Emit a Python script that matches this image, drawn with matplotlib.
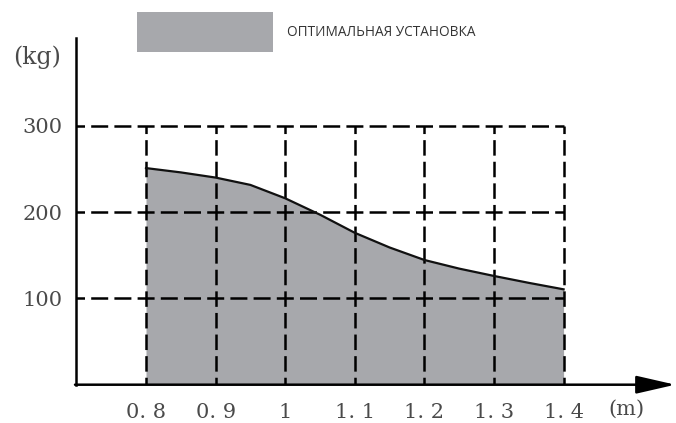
import matplotlib
matplotlib.use("Agg")
import matplotlib.pyplot as plt
from matplotlib.patches import Rectangle

# ---- data ----
span_m = [0.80, 0.85, 0.90, 0.95, 1.00, 1.05, 1.10, 1.15, 1.20, 1.25, 1.30, 1.35, 1.40]
load_kg = [251, 246, 240, 231.5, 216, 197, 176, 159, 144.5, 134.5, 126, 118, 110.5]
x_ticks = [0.8, 0.9, 1.0, 1.1, 1.2, 1.3, 1.4]
x_tick_labels = ["0. 8", "0. 9", "1", "1. 1", "1. 2", "1. 3", "1. 4"]
y_ticks = [100, 200, 300]
y_tick_labels = ["100", "200", "300"]
legend_label = "ОПТИМАЛЬНАЯ УСТАНОВКА"
x_unit = "(m)"
y_unit = "(kg)"

W, H = 676, 423
fig = plt.figure(figsize=(W / 100, H / 100), dpi=100)
fig.patch.set_facecolor("white")

left_px, right_px, bottom_px, top_px = 76.4, 676, 384.7, 38
ax = fig.add_axes([left_px / W, (H - bottom_px) / H,
                   (right_px - left_px) / W, (bottom_px - top_px) / H])
ax.set_xlim(0.7, 0.8 + (676 - 146) / 696)
ax.set_ylim(0, (bottom_px - top_px) / 0.863)
ax.set_facecolor("none")

fill_color = "#a7a8ac"
ax.fill_between(span_m, 0, load_kg, color=fill_color, lw=0, zorder=1)

lw = 1.8
h_dash = (3.4, (6.8, 2.48))
v_dash = (3.1, (6.2, 2.44))
ax.hlines(y_ticks, 0.7, x_ticks[-1], colors="black", linewidth=lw,
          linestyles=[h_dash], zorder=2)
ax.vlines(x_ticks, 0, y_ticks[-1], colors="black", linewidth=lw,
          linestyles=[v_dash], zorder=2)

ax.plot(span_m, load_kg, color="#111111", linewidth=1.6, zorder=3)

for s in ["top", "right", "bottom"]:
    ax.spines[s].set_visible(False)
ax.spines["left"].set_linewidth(lw)
ax.spines["left"].set_color("black")

xmax = ax.get_xlim()[1]
ax.annotate("", xy=(xmax - 0.001, 0), xytext=(0.7 - 0.002, 0),
            xycoords="data", textcoords="data",
            arrowprops=dict(arrowstyle="-|>,head_length=2.4,head_width=0.55",
                            mutation_scale=10, lw=lw, color="black",
                            shrinkA=0, shrinkB=0),
            annotation_clip=False, zorder=4)

serif = ["DejaVu Serif"]
tick_color = "#4a4a4a"
ax.set_xticks(x_ticks)
ax.set_xticklabels(x_tick_labels, fontfamily=serif, fontsize=15, color=tick_color)
ax.set_yticks(y_ticks)
ax.set_yticklabels(y_tick_labels, fontfamily=serif, fontsize=15, color=tick_color)
ax.tick_params(axis="x", length=0, pad=13)
ax.tick_params(axis="y", length=0, pad=10)

ax.text(0.8 + (626.7 - 146) / 696, -29, x_unit, fontfamily=serif, fontsize=15,
        color=tick_color, ha="center", va="center", clip_on=False)
ax.text(0.8 + (37.5 - 146) / 696, (bottom_px - 57) / 0.863, y_unit, fontfamily=serif,
        fontsize=17, color=tick_color, ha="center", va="center", clip_on=False)

# legend swatch and label
fig.patches.append(Rectangle((137 / W, 1 - 52 / H), 136 / W, 40 / H,
                             transform=fig.transFigure, facecolor=fill_color,
                             edgecolor="none", label=legend_label))
fig.text(287 / W, 1 - 32.7 / H, legend_label, fontfamily=["Open Sans", "DejaVu Sans"],
         fontsize=9.8, color="#333333", ha="left", va="center")

fig.savefig("out.png", dpi=100)
